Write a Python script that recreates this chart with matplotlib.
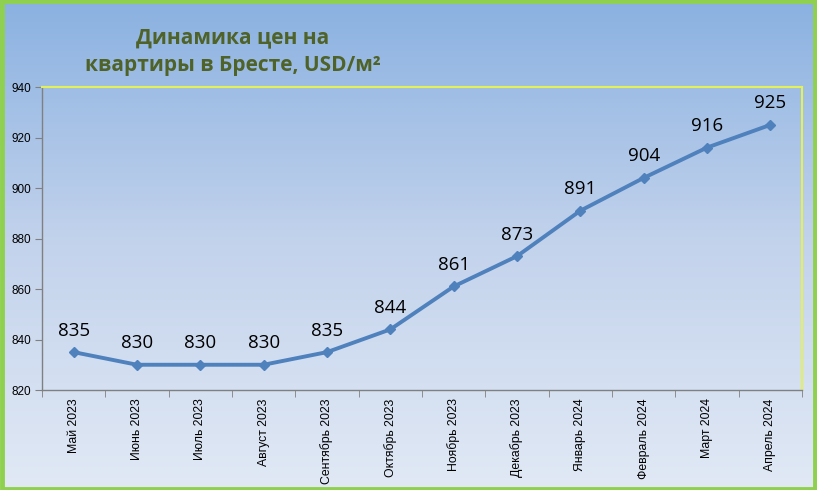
import numpy as np
import matplotlib
matplotlib.use("Agg")
import matplotlib.pyplot as plt
from matplotlib.colors import LinearSegmentedColormap
from matplotlib.patches import Rectangle

months = ["Май 2023", "Июнь 2023", "Июль 2023", "Август 2023", "Сентябрь 2023",
          "Октябрь 2023", "Ноябрь 2023", "Декабрь 2023", "Январь 2024",
          "Февраль 2024", "Март 2024", "Апрель 2024"]
prices = [835, 830, 830, 830, 835, 844, 861, 873, 891, 904, 916, 925]
yticks = [820, 840, 860, 880, 900, 920, 940]
title = "Динамика цен на\nквартиры в Бресте, USD/м²"

W, H = 817, 490
fig = plt.figure(figsize=(W / 100, H / 100), dpi=100)

# background gradient
bg = fig.add_axes([0, 0, 1, 1], zorder=-10)
cmap = LinearSegmentedColormap.from_list("bg", ["#8ab1e1", "#c3d3ec", "#e1e9f5"])
grad = np.linspace(0, 1, 256).reshape(-1, 1)
bg.imshow(grad, aspect="auto", cmap=cmap, extent=[0, 1, 0, 1], origin="upper")
bg.set_axis_off()
bg.add_patch(Rectangle((0.002, 0.003), 0.996, 0.994, transform=bg.transAxes,
                       fill=False, edgecolor="#8fd14f", linewidth=3.5))

ax = fig.add_axes([42 / W, 1 - 390 / H, (802 - 42) / W, (390 - 87) / H])
ax.patch.set_alpha(0)

x = np.arange(len(months))
ax.plot(x, prices, color="#4f81bd", linewidth=2.8, marker="D", markersize=5.5,
        markeredgecolor="#4f81bd", markerfacecolor="#4f81bd", zorder=3)

for xi, v in zip(x, prices):
    ax.annotate(str(v), (xi, v), xytext=(0, 9), textcoords="offset points",
                ha="center", va="bottom", fontsize=13.5, color="#000000",
                family=["Open Sans", "DejaVu Sans"])

ax.set_xlim(-0.5, len(months) - 0.5)
ax.set_ylim(820, 940)
ax.set_yticks(yticks)
ax.set_yticklabels([str(t) for t in yticks], fontsize=8.5, family="Liberation Sans")

ax.set_xticks(x)
ax.set_xticklabels(months, rotation=90, fontsize=8.8, family="Liberation Sans")
ax.tick_params(axis="x", length=0, pad=6)
ax.set_xticks(np.arange(-0.5, len(months), 1), minor=True)
ax.tick_params(axis="x", which="minor", length=5, color="#808080", direction="out")
ax.tick_params(axis="y", length=5, color="#808080", direction="out", pad=3)

for s in ["left", "bottom"]:
    ax.spines[s].set_color("#808080")
    ax.spines[s].set_linewidth(1.0)
for s in ["top", "right"]:
    ax.spines[s].set_color("#e4f05a")
    ax.spines[s].set_linewidth(1.5)

fig.text(233 / W, 1 - 52 / H, title, ha="center", va="center", fontsize=15,
         fontweight="bold", color="#4f6228", family=["Open Sans", "DejaVu Sans"],
         linespacing=1.4)

fig.savefig("out.png", dpi=100)
